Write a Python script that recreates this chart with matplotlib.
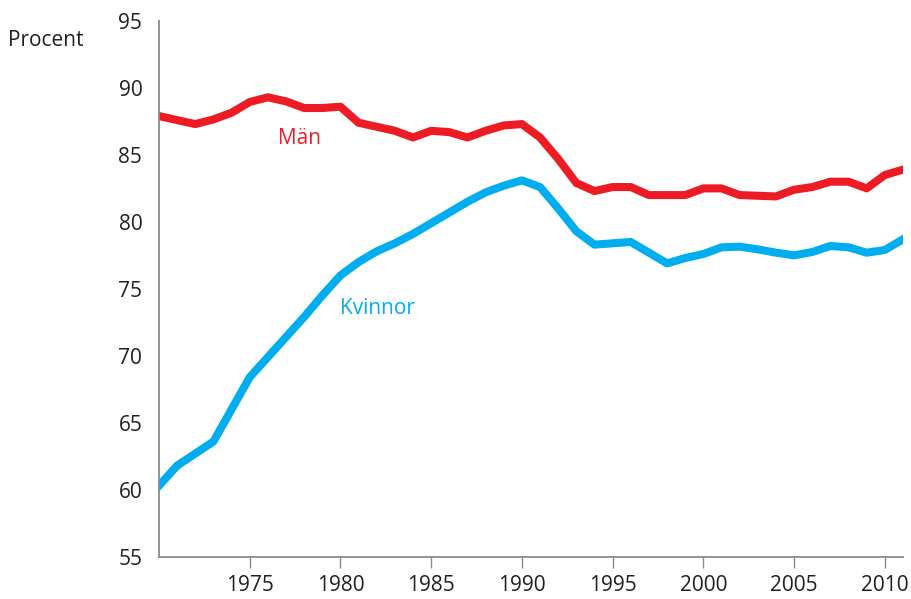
import matplotlib.pyplot as plt

years = list(range(1970, 2012))

man = [87.9, 87.6, 87.3, 87.65, 88.15, 88.95, 89.3, 89.0, 88.5, 88.5,
       88.6, 87.4, 87.1, 86.8, 86.3, 86.8, 86.7, 86.3, 86.8, 87.2,
       87.3, 86.3, 84.7, 82.9, 82.3, 82.6, 82.6, 82.0, 82.0, 82.0,
       82.5, 82.5, 82.0, 81.95, 81.9, 82.4, 82.6, 83.0, 83.0, 82.5,
       83.5, 83.9]

kvinnor = [60.3, 61.8, 62.7, 63.6, 66.0, 68.4, 69.9, 71.4, 72.9, 74.5,
           76.0, 77.0, 77.8, 78.4, 79.1, 79.9, 80.7, 81.5, 82.2, 82.7,
           83.1, 82.6, 81.0, 79.3, 78.3, 78.4, 78.5, 77.7, 76.9, 77.3,
           77.6, 78.1, 78.15, 77.95, 77.7, 77.5, 77.75, 78.2, 78.1, 77.7,
           77.9, 78.7]

xticks = [1975, 1980, 1985, 1990, 1995, 2000, 2005, 2010]
yticks = [55, 60, 65, 70, 75, 80, 85, 90, 95]

red = '#ed1c24'
blue = '#00aeef'
txt = '#231f20'
grey = '#8a8a8a'

plt.rcParams['font.family'] = ['Open Sans', 'DejaVu Sans']

fig = plt.figure(figsize=(9.11, 5.99), dpi=100)
ax = fig.add_axes([0.1745, 0.0706, 0.8167, 0.8944])

# linjerna klipps vid axelkanten som i originalet
ax.plot(years, man, color=red, linewidth=5.8, solid_joinstyle='round')
ax.plot(years, kvinnor, color=blue, linewidth=5.8, solid_joinstyle='round')

ax.text(1977.74, 86.2, 'Män', color=red, fontsize=15, ha='center', va='center')
ax.text(1982.06, 73.5, 'Kvinnor', color=blue, fontsize=15, ha='center', va='center')

ax.set_xlim(1970, 2011)
ax.set_ylim(55, 95)
ax.set_xticks(xticks)
ax.set_yticks(yticks)

for s in ['top', 'right']:
    ax.spines[s].set_visible(False)
for s in ['left', 'bottom']:
    ax.spines[s].set_color(grey)
    ax.spines[s].set_linewidth(1.3)
    ax.spines[s].set_zorder(3)

ax.tick_params(axis='x', direction='out', length=8, width=1.0, color=grey,
               labelsize=15, labelcolor=txt, pad=5)
ax.tick_params(axis='y', length=0, labelsize=15, labelcolor=txt, pad=12)

fig.text(0.009, 1 - 40 / 599, 'Procent', fontsize=15, color=txt, ha='left', va='center')

fig.savefig('out.png', dpi=100)
